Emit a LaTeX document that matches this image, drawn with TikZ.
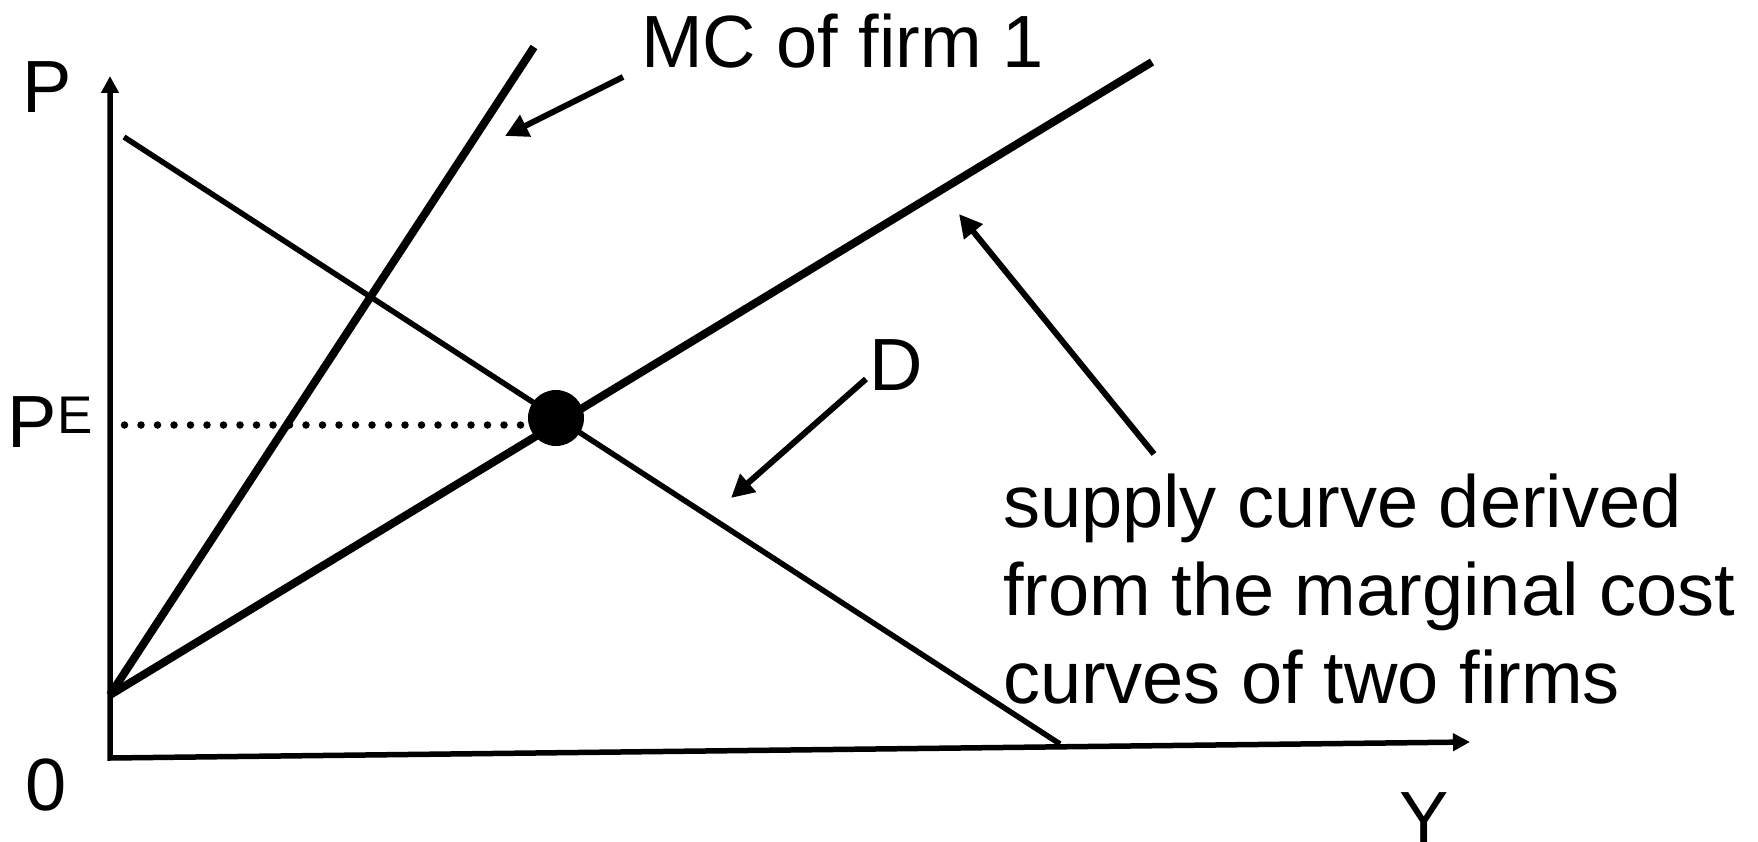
\documentclass[tikz,border=0pt]{standalone}
\usepackage{fontspec}
\setmainfont{Liberation Sans}
\usetikzlibrary{arrows.meta}
\begin{document}
\begin{tikzpicture}[x=1pt,y=-1pt,
  lbl/.style={inner sep=0pt, outer sep=0pt, font=\fontsize{74}{88}\selectfont},
  axis/.style={line width=5.5pt, {Triangle[length=17pt,width=17pt]}-{Triangle[length=17pt,width=17pt]}},
  curve/.style={line width=8pt},
  dem/.style={line width=5.5pt},
  callout/.style={line width=6pt, -{Triangle[length=23pt,width=23pt]}},
  dots/.style={line width=7.5pt, line cap=round, dash pattern=on 0pt off 16.5pt},
  eqdot/.style={circle, fill=black, minimum size=56pt, inner sep=0pt},
]
\useasboundingbox (0,0) rectangle (1758,842);
% axes
\coordinate (O) at (110,758);
\coordinate (Ytip) at (110,76);
\coordinate (Xtip) at (1470,742);
\draw[axis] (Ytip) -- (O) -- (Xtip);
% curves
\coordinate (S0) at (110,695);
\coordinate (MC1) at (534,47);
\coordinate (S1) at (1152,62);
\coordinate (D0) at (124,137);
\coordinate (D1) at (1060,744);
\draw[curve] (S0) -- (MC1);
\draw[curve] (S0) -- (S1);
\draw[dem] (D0) -- (D1);
% dotted line and equilibrium
\coordinate (PEs) at (124.5,425);
\coordinate (PEe) at (531,425);
\draw[dots] (PEs) -- (PEe);
\node[eqdot] (E) at (556,418) {};
% labels
\node[lbl, anchor=base west] (P) at (23,113) {P};
\node[lbl, anchor=base west] (PE) at (7,447) {P\kern1pt\raisebox{14pt}{\fontsize{53}{53}\selectfont E}};
\node[lbl, anchor=base west] (zero) at (25,810) {0};
\node[lbl, anchor=base] (Ylab) at (1424,843) {Y};
\node[lbl, anchor=base west] (MClab) at (641,68) {MC of firm 1};
\node[lbl, anchor=base west] (Dlab) at (869,390) {D};
\node[lbl, anchor=base west, align=left] (Slab) at (1003,703) {supply curve derived\\from the marginal cost\\curves of two firms};
% callout arrows
\coordinate (MCa0) at (623,77);
\coordinate (MCa1) at (505,136);
\coordinate (Da0) at (866,379);
\coordinate (Da1) at (731,498);
\coordinate (Sa0) at (1154,454);
\coordinate (Sa1) at (959,214);
\draw[callout] (MCa0) -- (MCa1);
\draw[callout] (Da0) -- (Da1);
\draw[callout] (Sa0) -- (Sa1);
\end{tikzpicture}
\end{document}
